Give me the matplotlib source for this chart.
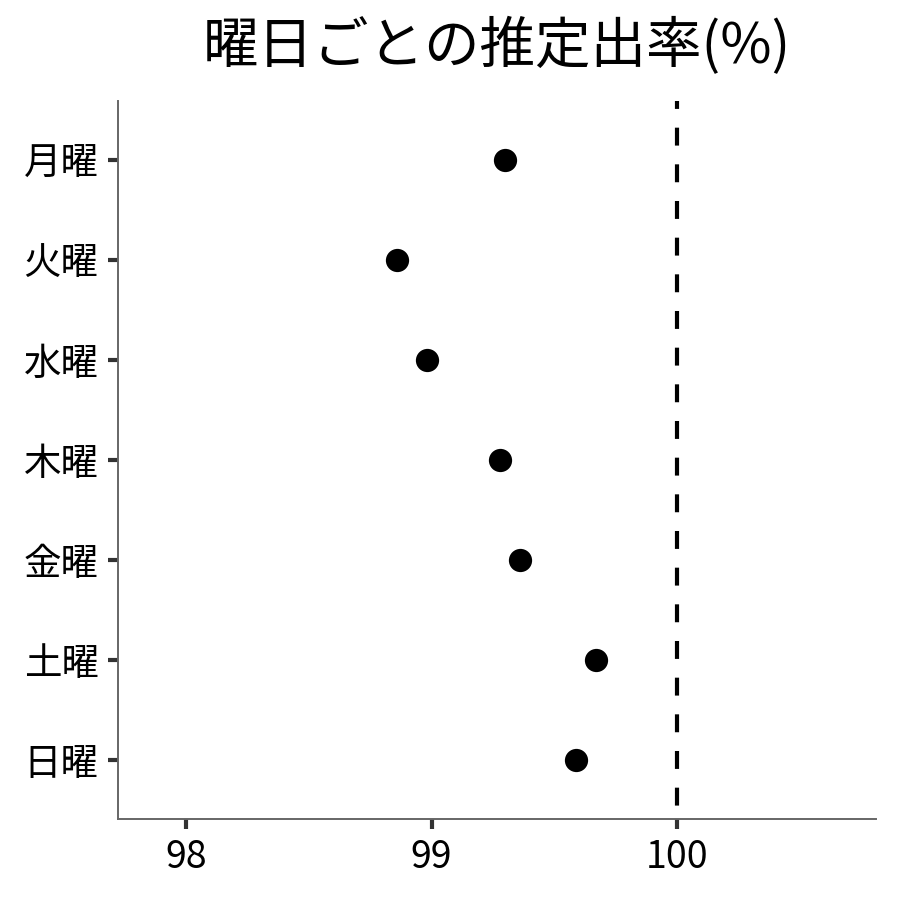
import matplotlib
matplotlib.use('Agg')
import matplotlib.pyplot as plt

plt.rcParams['font.family'] = ['Noto Sans CJK JP', 'DejaVu Sans']

days = ['月曜', '火曜', '水曜', '木曜', '金曜', '土曜', '日曜']
rates = [99.30, 98.86, 98.98, 99.28, 99.36, 99.67, 99.59]
ref_line = 100
x_ticks = [98, 99, 100]

fig = plt.figure(figsize=(9, 9), dpi=100)
ax = fig.add_axes([0.1311, 0.09, 0.8422, 0.7978])

ypos = list(range(len(days)))
ax.scatter(rates, ypos, s=280, color='black', linewidths=0, zorder=3)

ylim = (len(days) - 1 + 0.59, -0.59)
# draw the dashed line from top to bottom so the dash pattern starts at the top
ax.plot([ref_line, ref_line], [ylim[1], ylim[0]], color='black', linewidth=3,
        linestyle=(2.4, (4.3, 4.5)), zorder=2, clip_on=False)

ax.set_yticks(ypos)
ax.set_yticklabels(days)
ax.set_ylim(*ylim)
ax.set_xticks(x_ticks)
ax.set_xticklabels([str(t) for t in x_ticks])
ax.set_xlim(97.723, 100.81)

for side in ['top', 'right']:
    ax.spines[side].set_visible(False)
for side in ['left', 'bottom']:
    ax.spines[side].set_color('#666666')
    ax.spines[side].set_linewidth(1.4)

ax.tick_params(axis='both', length=7, width=3, color='#333333', labelsize=27, labelcolor='black', pad=7)

ax.set_title('曜日ごとの推定出率(%)', fontsize=40, pad=27)

plt.savefig('out.png', dpi=100)
plt.close()
